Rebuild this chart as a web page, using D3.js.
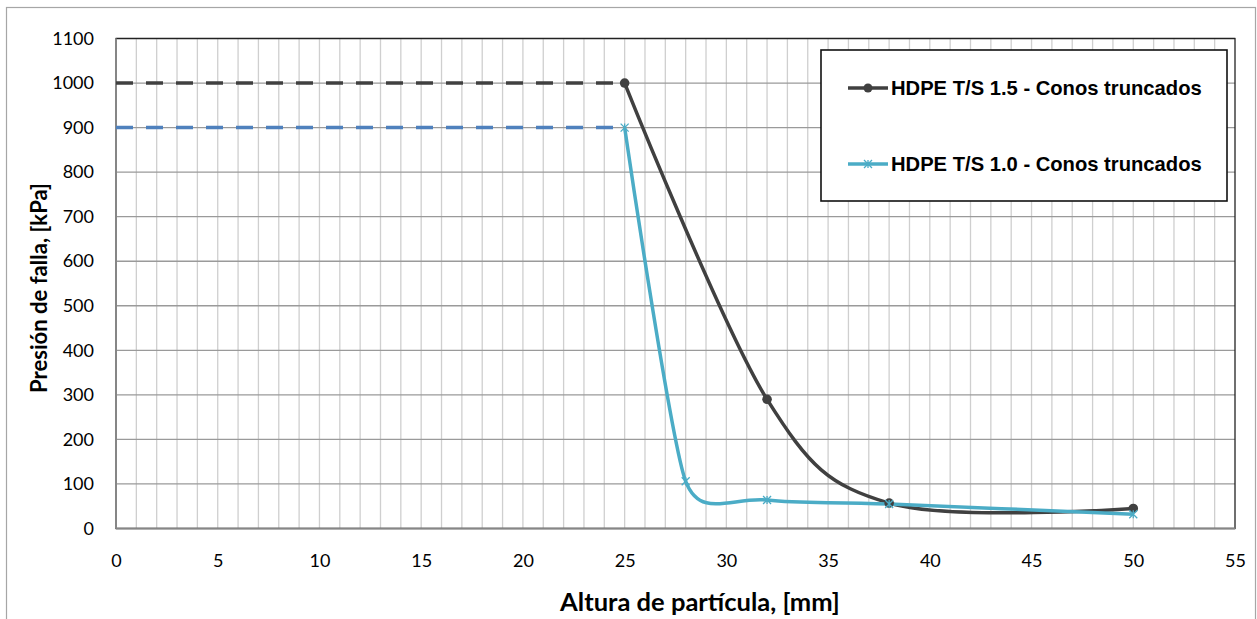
<!DOCTYPE html>
<html><head><meta charset="utf-8">
<script src="https://cdn.jsdelivr.net/npm/d3@7"></script>
<style>body{margin:0;background:#fff}svg{display:block}</style>
</head><body>
<svg id="c" width="1257" height="619"></svg>
<script>
// Data
const s15X = [25, 32, 38, 50];
const s15Y = [1000, 290, 57, 45];
const s10X = [25, 28, 32, 38, 50];
const s10Y = [900, 106, 64, 55, 32];
const dash15X = [0, 25];
const dash15Y = [1000, 1000];
const dash10X = [0, 25];
const dash10Y = [900, 900];
const xTicks = [0, 5, 10, 15, 20, 25, 30, 35, 40, 45, 50, 55];
const yTicks = [0, 100, 200, 300, 400, 500, 600, 700, 800, 900, 1000, 1100];
const seriesNames = ["HDPE T/S 1.5 - Conos truncados", "HDPE T/S 1.0 - Conos truncados"];

const svg = d3.select("#c");
const L = 116, R = 1235, T = 38.5, B = 528.5;
const x = d3.scaleLinear().domain([0, 55]).range([L, R]);
const y = d3.scaleLinear().domain([0, 1100]).range([B, T]);

// outer chart border
svg.append("rect").attr("x", 6.5).attr("y", 7.5).attr("width", 1249).attr("height", 640)
  .attr("fill", "#fff").attr("stroke", "#a6a6a6").attr("stroke-width", 1.2);

// vertical minor gridlines every 1 unit
svg.append("g").selectAll("line").data(d3.range(1, 55)).join("line")
  .attr("x1", d => x(d)).attr("x2", d => x(d)).attr("y1", T).attr("y2", B)
  .attr("stroke", "#cfcfcf").attr("stroke-width", 1.3);
// horizontal gridlines
svg.append("g").selectAll("line").data(yTicks.slice(1)).join("line")
  .attr("x1", L).attr("x2", R).attr("y1", d => y(d)).attr("y2", d => y(d))
  .attr("stroke", "#9a9a9a").attr("stroke-width", 1.3);

// plot border
svg.append("rect").attr("x", L).attr("y", T).attr("width", R - L).attr("height", B - T)
  .attr("fill", "none").attr("stroke", "#222").attr("stroke-width", 1.3);
// axis lines
svg.append("line").attr("x1", L).attr("x2", L).attr("y1", T).attr("y2", B).attr("stroke", "#868686").attr("stroke-width", 2);
svg.append("line").attr("x1", L).attr("x2", R).attr("y1", B).attr("y2", B).attr("stroke", "#868686").attr("stroke-width", 2);

// axes via d3 (labels only)
const xAxis = svg.append("g").attr("transform", `translate(0,${B})`)
  .call(d3.axisBottom(x).tickValues(xTicks).tickFormat(d3.format("d")).tickSize(0).tickPadding(26));
const yAxis = svg.append("g").attr("transform", `translate(${L},0)`)
  .call(d3.axisLeft(y).tickValues(yTicks).tickFormat(d3.format("d")).tickSize(0).tickPadding(22));
[xAxis, yAxis].forEach(a => {
  a.select(".domain").remove();
  a.selectAll("text").attr("font-family", "Lato, 'Liberation Sans', sans-serif")
    .attr("font-size", 18).attr("fill", "#000");
});

// dashed lines
const line = d3.line().x(d => x(d[0])).y(d => y(d[1]));
svg.append("path").datum(d3.zip(dash15X, dash15Y)).attr("d", line)
  .attr("fill", "none").attr("stroke", "#404040").attr("stroke-width", 3.5).attr("stroke-dasharray", "17,13");
svg.append("path").datum(d3.zip(dash10X, dash10Y)).attr("d", line)
  .attr("fill", "none").attr("stroke", "#4f81bd").attr("stroke-width", 3.5).attr("stroke-dasharray", "17,13");

// Excel-like smoothed line: Bezier with handle length capped by neighbouring segments
function excelSmooth(data) {
  const p = data.map(d => [x(d[0]), y(d[1])]);
  const n = p.length;
  const dist = (a, b) => Math.hypot(b[0] - a[0], b[1] - a[1]);
  const hIn = [], hOut = [];
  for (let i = 0; i < n; i++) {
    if (i === 0 || i === n - 1) { hIn[i] = [0, 0]; hOut[i] = [0, 0]; continue; }
    const p0 = p[i - 1], p1 = p[i], p2 = p[i + 1];
    const d02 = dist(p0, p2), d01 = dist(p0, p1), d12 = dist(p1, p2);
    const h = Math.min(d02 / 6, d01 / 2, d12 / 2);
    const ux = (p2[0] - p0[0]) / d02, uy = (p2[1] - p0[1]) / d02;
    hOut[i] = [ux * h, uy * h];
    hIn[i] = [-ux * h, -uy * h];
  }
  const path = d3.path();
  path.moveTo(p[0][0], p[0][1]);
  for (let i = 0; i < n - 1; i++) {
    path.bezierCurveTo(p[i][0] + hOut[i][0], p[i][1] + hOut[i][1],
      p[i + 1][0] + hIn[i + 1][0], p[i + 1][1] + hIn[i + 1][1], p[i + 1][0], p[i + 1][1]);
  }
  return path.toString();
}
const d15 = d3.zip(s15X, s15Y), d10 = d3.zip(s10X, s10Y);
svg.append("path").attr("d", excelSmooth(d15))
  .attr("fill", "none").attr("stroke", "#404040").attr("stroke-width", 3.5);
svg.append("path").attr("d", excelSmooth(d10))
  .attr("fill", "none").attr("stroke", "#4bacc6").attr("stroke-width", 3.5);

function star(g, cx, cy, s, col) {
  g.append("path").attr("d", `M${cx - s},${cy - s}L${cx + s},${cy + s}M${cx - s},${cy + s}L${cx + s},${cy - s}M${cx},${cy - s}L${cx},${cy + s}`)
    .attr("stroke", col).attr("stroke-width", 1.3).attr("fill", "none");
}
// markers
svg.append("g").selectAll("circle").data(d15).join("circle")
  .attr("cx", d => x(d[0])).attr("cy", d => y(d[1])).attr("r", 4.8).attr("fill", "#404040");
const mg = svg.append("g");
d10.forEach(d => star(mg, x(d[0]), y(d[1]), 4, "#4bacc6"));

// axis titles
function fit(t, target) {
  const w = t.node().getComputedTextLength();
  t.attr("font-size", +t.attr("font-size") * target / w);
}
const xt = svg.append("text").attr("x", 700).attr("y", 611).attr("text-anchor", "middle")
  .attr("font-family", "Lato, 'Liberation Sans', sans-serif").attr("font-weight", "bold")
  .attr("font-size", 21).text("Altura de partícula, [mm]");
fit(xt, 280);
const yt = svg.append("text").attr("transform", "translate(47,288) rotate(-90)").attr("text-anchor", "middle")
  .attr("font-family", "Lato, 'Liberation Sans', sans-serif").attr("font-weight", "bold")
  .attr("font-size", 21).text("Presión de falla, [kPa]");
fit(yt, 210);

// legend
const lg = svg.append("g");
lg.append("rect").attr("x", 821).attr("y", 50).attr("width", 406).attr("height", 151)
  .attr("fill", "#fff").attr("stroke", "#111").attr("stroke-width", 1.6);
const legY = [88, 164], legCol = ["#404040", "#4bacc6"];
seriesNames.forEach((n, i) => {
  lg.append("line").attr("x1", 848).attr("x2", 888).attr("y1", legY[i]).attr("y2", legY[i])
    .attr("stroke", legCol[i]).attr("stroke-width", 3.5);
  if (i === 0) lg.append("circle").attr("cx", 868).attr("cy", legY[i]).attr("r", 4.5).attr("fill", legCol[i]);
  else star(lg, 868, legY[i], 4, legCol[i]);
  lg.append("text").attr("x", 891).attr("y", legY[i]).attr("dy", "0.36em")
    .attr("font-family", "'Liberation Sans', Arial, sans-serif").attr("font-weight", "bold")
    .attr("font-size", 20.2).text(n);
});
</script>
</body></html>
